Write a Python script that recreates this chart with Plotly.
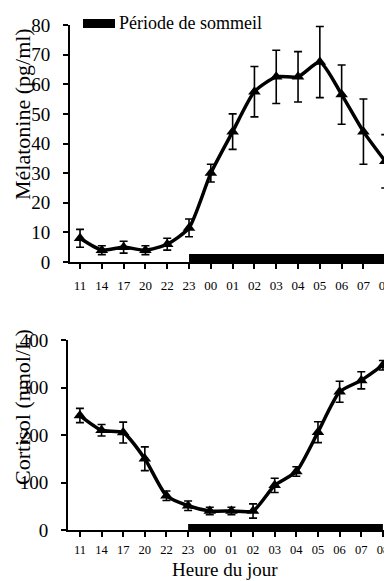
import plotly.graph_objects as go

hours = ["11", "14", "17", "20", "22", "23", "00", "01", "02", "03", "04", "05", "06", "07", "08"]
melatonin = [8, 4, 5, 4, 6, 11.5, 30, 44, 57.5, 62.5, 62.5, 67.5, 56.5, 44, 34]
melatonin_err = [3, 1.5, 2, 1.5, 2, 3, 3, 6, 8.5, 9, 8.5, 12, 10, 11, 9]
cortisol = [241, 210, 205, 150, 72, 51, 40, 40, 40, 94, 123, 206, 291, 315, 347]
cortisol_err = [15, 12, 22, 25, 10, 10, 8, 8, 15, 15, 10, 22, 22, 18, 10]
sleep_start = "23"
sleep_end = "08"
legend_label = "Période de sommeil"

pos = list(range(len(hours)))
FONT = "Liberation Serif"

# page body has an 8px margin: the figure sits at (8, 8) in the window
OFF = 8
W, H = 392 - OFF, 581 - OFF


def PX(px):
    return (px - OFF) / W


def PY(py):
    return 1 - (py - OFF) / H


fig = go.Figure()


def add_series(y, err, xa, ya):
    fig.add_trace(go.Scatter(
        x=pos, y=y, xaxis=xa, yaxis=ya, mode="lines+markers",
        line=dict(color="black", width=3.5, shape="spline", smoothing=0.6),
        marker=dict(symbol="triangle-up", size=11, color="black"),
        error_y=dict(type="data", array=err, visible=True, color="black",
                     thickness=1.6, width=4),
        showlegend=False, hoverinfo="skip", cliponaxis=False))


add_series(melatonin, melatonin_err, "x", "y")
add_series(cortisol, cortisol_err, "x2", "y2")

s0 = hours.index(sleep_start)
s1 = hours.index(sleep_end)

shapes = [
    dict(type="rect", xref="x", yref="y", x0=s0, x1=s1, y0=0, y1=2.7,
         fillcolor="black", line=dict(width=0)),
    dict(type="rect", xref="x2", yref="y2", x0=s0, x1=s1, y0=0, y1=12.5,
         fillcolor="black", line=dict(width=0)),
    dict(type="rect", xref="paper", yref="paper", x0=PX(83), x1=PX(115),
         y0=PY(28), y1=PY(19), fillcolor="black", line=dict(width=0)),
]

axis_common = dict(showgrid=False, zeroline=False, showline=True, linecolor="black",
                   linewidth=2, ticks="outside", tickcolor="black", tickwidth=2,
                   ticklen=5, automargin=False)

fig.update_layout(
    width=W, height=H, margin=dict(l=0, r=0, t=0, b=0),
    paper_bgcolor="white", plot_bgcolor="white",
    font=dict(family=FONT, color="black"),
    xaxis=dict(domain=[PX(70), 1.0], range=[-0.46, 14.31], anchor="y",
               tickvals=pos, ticktext=hours, tickfont=dict(size=13, family=FONT),
               ticklabelstandoff=5, **axis_common),
    yaxis=dict(domain=[PY(262), PY(25)], range=[0, 80], anchor="x",
               tickvals=[0, 10, 20, 30, 40, 50, 60, 70, 80],
               tickfont=dict(size=19, family=FONT), ticklabelstandoff=9,
               **axis_common),
    xaxis2=dict(domain=[PX(68), 1.0], range=[-0.55, 14.42], anchor="y2",
                tickvals=pos, ticktext=hours, tickfont=dict(size=12.5, family=FONT),
                ticklabelstandoff=2, **axis_common),
    yaxis2=dict(domain=[PY(530), PY(340)], range=[0, 400], anchor="x2",
                tickvals=[0, 100, 200, 300, 400],
                tickfont=dict(size=19, family=FONT), ticklabelstandoff=9,
                **axis_common),
    shapes=shapes,
    annotations=[
        dict(text=legend_label, xref="paper", yref="paper", x=PX(117), y=PY(23),
             xanchor="left", yanchor="middle", showarrow=False,
             font=dict(size=18, family=FONT)),
        dict(text="Mélatonine (pg/ml)", xref="paper", yref="paper", x=PX(22),
             y=PY(114), xanchor="center", yanchor="middle", textangle=-90,
             showarrow=False, font=dict(size=22, family=FONT)),
        dict(text="Cortisol (nmol/L)", xref="paper", yref="paper", x=PX(22),
             y=PY(407), xanchor="center", yanchor="middle", textangle=-90,
             showarrow=False, font=dict(size=22, family=FONT)),
        dict(text="Heure du jour", xref="paper", yref="paper", x=PX(225),
             y=0, xanchor="center", yanchor="bottom", borderpad=0,
             showarrow=False, font=dict(size=19, family=FONT)),
    ],
)

fig.write_html("out.html")
